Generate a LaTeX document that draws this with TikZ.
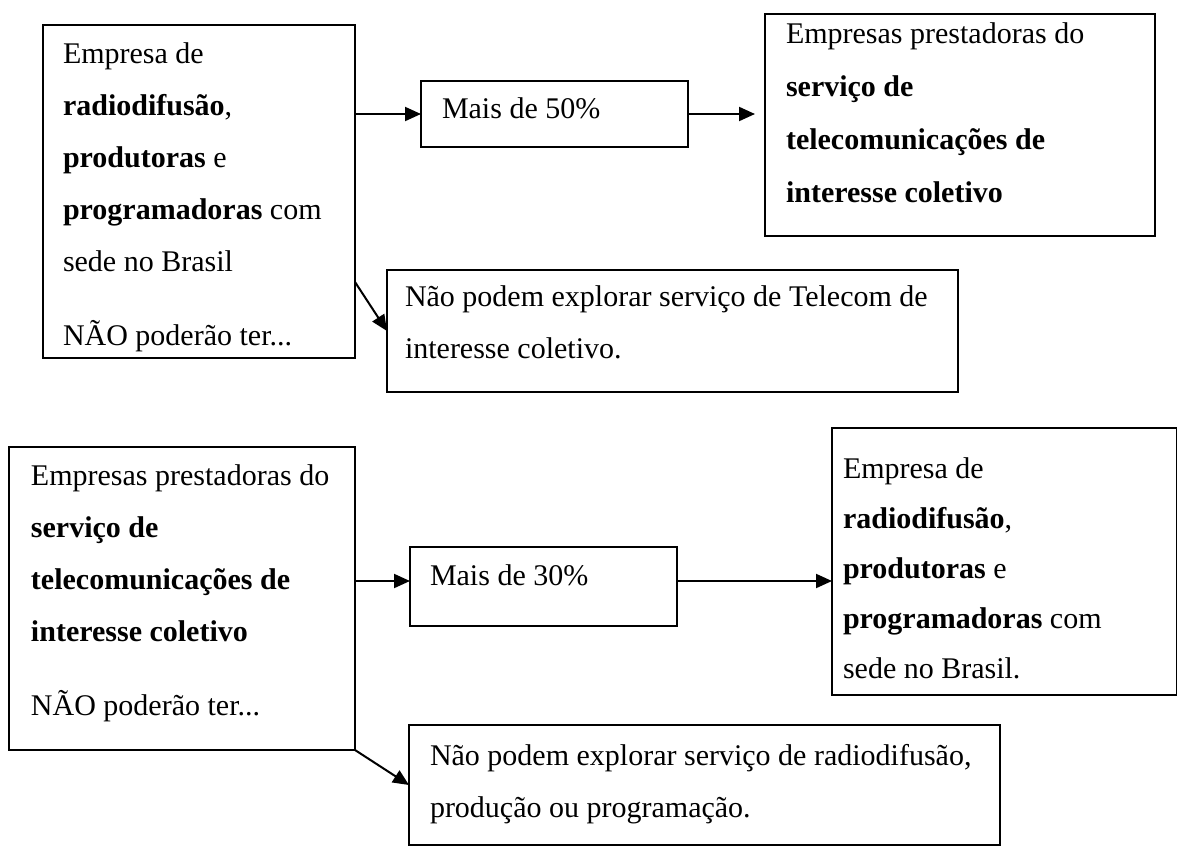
\documentclass[tikz,border=0pt]{standalone}
\usepackage{fontspec}
\setmainfont{Liberation Serif}
\usetikzlibrary{arrows.meta,fit,calc}
\newcommand\boxtext[2]{\parbox[t]{330pt}{\fontsize{15}{#1}\selectfont\raggedright #2}}
\begin{document}
\begin{tikzpicture}[x=0.5pt,y=-0.5pt,
  bx/.style={draw,line width=1pt,inner sep=0pt,outer sep=0pt},
  txt/.style={anchor=base west,inner sep=0pt,outer sep=0pt},
  arr/.style={line width=1pt,-{Triangle[length=8pt,width=7pt]}}]
\useasboundingbox[fill=white] (0,0) rectangle (1177,846);
% boxes
\node[bx,fit={(43,25)(355,358)}] (A1) {};
\node[bx,fit={(421,81)(688,147)}] (M1) {};
\node[bx,fit={(765,14)(1155,236)}] (E1) {};
\node[bx,fit={(387,270)(958,392)}] (N1) {};
\node[bx,fit={(9,447)(355,750)}] (A2) {};
\node[bx,fit={(410,547)(677,626)}] (M2) {};
\node[bx,fit={(832,428)(1177,695)}] (E2) {};
\node[bx,fit={(409,725)(1000,845)}] (N2) {};
% texts
\node[txt] (tA1) at (63,63) {\boxtext{26pt}{Empresa de\\ \textbf{radiodifusão},\\ \textbf{produtoras} e\\ \textbf{programadoras} com\\ sede no Brasil\\[11pt] NÃO poderão ter...}};
\node[txt] (tM1) at (442,118) {\boxtext{26pt}{Mais de 50\%}};
\node[txt] (tE1) at (786,43) {\boxtext{26.5pt}{Empresas prestadoras do\\ \textbf{serviço de}\\ \textbf{telecomunicações de}\\ \textbf{interesse coletivo}}};
\node[txt] (tN1) at (405,306) {\boxtext{26pt}{Não podem explorar serviço de Telecom de\\ interesse coletivo.}};
\node[txt] (tA2) at (31,485) {\boxtext{26pt}{Empresas prestadoras do\\ \textbf{serviço de}\\ \textbf{telecomunicações de}\\ \textbf{interesse coletivo}\\[11pt] NÃO poderão ter...}};
\node[txt] (tM2) at (430,585) {\boxtext{26pt}{Mais de 30\%}};
\node[txt] (tE2) at (843,478) {\boxtext{25pt}{Empresa de\\ \textbf{radiodifusão},\\ \textbf{produtoras} e\\ \textbf{programadoras} com\\ sede no Brasil.}};
\node[txt] (tN2) at (430,765) {\boxtext{26pt}{Não podem explorar serviço de radiodifusão,\\ produção ou programação.}};
% connectors
\draw[arr] (A1.east |- M1.west) -- (M1.west);
\draw[arr,shorten >=5pt] (M1.east) -- (M1.east -| E1.west);
\draw[arr] ([yshift=-128.5pt]A1.north east) -- (N1.west);
\draw[arr] ($(A2.east |- M2.west)+(0,-5.5)$) -- ($(M2.west)+(0,-5.5)$);
\draw[arr] ($(M2.east)+(0,-5.5)$) -- ($(M2.east -| E2.west)+(0,-5.5)$);
\draw[arr] (A2.south east) -- (N2.west);
\end{tikzpicture}
\end{document}
